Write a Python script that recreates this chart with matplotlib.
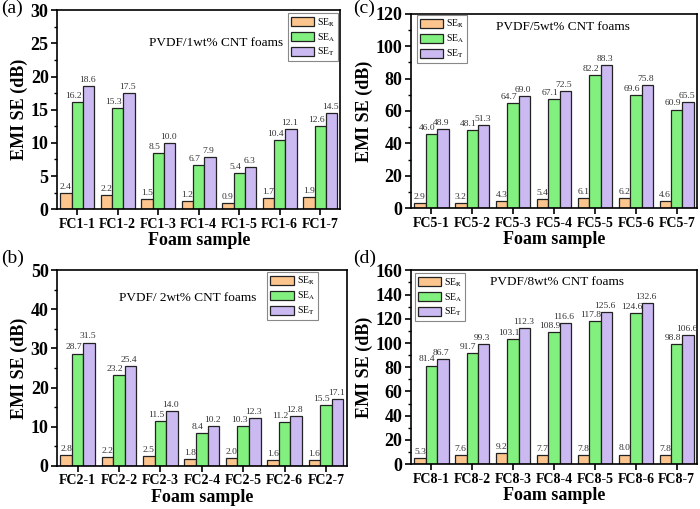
import numpy as np
import matplotlib
matplotlib.use('Agg')
import matplotlib.pyplot as plt
from matplotlib.ticker import MultipleLocator, AutoMinorLocator

plt.rcParams['font.family'] = ['Liberation Serif', 'DejaVu Serif']
plt.rcParams['mathtext.fontset'] = 'stix'

# data
samples_1 = ['FC1-1', 'FC1-2', 'FC1-3', 'FC1-4', 'FC1-5', 'FC1-6', 'FC1-7']
samples_2 = ['FC2-1', 'FC2-2', 'FC2-3', 'FC2-4', 'FC2-5', 'FC2-6', 'FC2-7']
samples_5 = ['FC5-1', 'FC5-2', 'FC5-3', 'FC5-4', 'FC5-5', 'FC5-6', 'FC5-7']
samples_8 = ['FC8-1', 'FC8-2', 'FC8-3', 'FC8-4', 'FC8-5', 'FC8-6', 'FC8-7']

se_r_1 = [2.4, 2.2, 1.5, 1.2, 0.9, 1.7, 1.9]
se_a_1 = [16.2, 15.3, 8.5, 6.7, 5.4, 10.4, 12.6]
se_t_1 = [18.6, 17.5, 10.0, 7.9, 6.3, 12.1, 14.5]

se_r_2 = [2.8, 2.2, 2.5, 1.8, 2.0, 1.6, 1.6]
se_a_2 = [28.7, 23.2, 11.5, 8.4, 10.3, 11.2, 15.5]
se_t_2 = [31.5, 25.4, 14.0, 10.2, 12.3, 12.8, 17.1]

se_r_5 = [2.9, 3.2, 4.3, 5.4, 6.1, 6.2, 4.6]
se_a_5 = [46.0, 48.1, 64.7, 67.1, 82.2, 69.6, 60.9]
se_t_5 = [48.9, 51.3, 69.0, 72.5, 88.3, 75.8, 65.5]

se_r_8 = [5.3, 7.6, 9.2, 7.7, 7.8, 8.0, 7.8]
se_a_8 = [81.4, 91.7, 103.1, 108.9, 117.8, 124.6, 98.8]
se_t_8 = [86.7, 99.3, 112.3, 116.6, 125.6, 132.6, 106.6]

colors = ['#FDC58E', '#82F07E', '#CBB9F2']
labels = ['SE$_\\mathrm{R}$', 'SE$_\\mathrm{A}$', 'SE$_\\mathrm{T}$']
width = 0.28
label_shift = [0, -3, -1]  # horizontal nudge of the value labels, in points


def draw_panel(ax, samples, series, ymax, ystep, title, title_xy,
               leg_loc, leg_anchor, tag, tag_xy):
    x = np.arange(1, len(samples) + 1)
    for i, vals in enumerate(series):
        ax.bar(x + (i - 1) * width, vals, width, color=colors[i],
               edgecolor='#222222', linewidth=0.9, label=labels[i])
        for xi, v in zip(x, vals):
            ax.annotate(f'{v:.1f}', (xi + (i - 1) * width, v),
                        xytext=(label_shift[i], 1.5), textcoords='offset points',
                        ha='center', va='bottom', fontsize=6.8, color='#333333')
    ax.set_xlim(0.5, 7.5)
    ax.set_ylim(0, ymax)
    ax.set_xticks(x)
    ax.set_xticklabels(samples, fontsize=10, fontweight='bold')
    ax.yaxis.set_major_locator(MultipleLocator(ystep))
    ax.yaxis.set_minor_locator(AutoMinorLocator(2))
    for lab in ax.get_yticklabels():
        lab.set_fontsize(13)
        lab.set_fontweight('bold')
    ax.tick_params(axis='both', direction='out', length=4, width=1.2, pad=2)
    ax.tick_params(axis='y', which='minor', direction='out', length=2.5, width=1)
    for sp in ax.spines.values():
        sp.set_linewidth(1.2)
    ax.set_ylabel('EMI SE (dB)', fontsize=13, fontweight='bold', labelpad=2)
    ax.set_xlabel('Foam sample', fontsize=13, fontweight='bold', labelpad=1)
    ax.text(title_xy[0], title_xy[1], title, transform=ax.transAxes,
            ha='center', va='center', fontsize=9.5)
    leg = ax.legend(loc=leg_loc, bbox_to_anchor=leg_anchor, fontsize=7,
                    fancybox=False, edgecolor='#888888', framealpha=1,
                    handlelength=2.4, handleheight=1.1, labelspacing=0.25,
                    handletextpad=0.3, borderpad=0.3, borderaxespad=0)
    leg.get_frame().set_linewidth(0.8)
    ax.figure.text(tag_xy[0], tag_xy[1], tag, fontsize=14, ha='left', va='top')


fig = plt.figure(figsize=(7.0, 5.09), dpi=100)

ax_a = fig.add_axes([0.0814, 0.589, 0.405, 0.391])
ax_c = fig.add_axes([0.587, 0.591, 0.409, 0.382])
ax_b = fig.add_axes([0.0814, 0.0845, 0.414, 0.385])
ax_d = fig.add_axes([0.587, 0.088, 0.409, 0.381])

draw_panel(ax_a, samples_1, [se_r_1, se_a_1, se_t_1], 30, 5,
           'PVDF/1wt% CNT foams', (0.56, 0.834),
           'upper right', (0.993, 0.985), '(a)', (0.002, 1.0))
draw_panel(ax_c, samples_5, [se_r_5, se_a_5, se_t_5], 120, 20,
           'PVDF/5wt% CNT foams', (0.53, 0.93),
           'upper left', (0.02, 0.995), '(c)', (0.505, 1.0))
draw_panel(ax_b, samples_2, [se_r_2, se_a_2, se_t_2], 50, 10,
           'PVDF/ 2wt% CNT foams', (0.45, 0.857),
           'upper right', (0.90, 0.99), '(b)', (0.002, 0.51))
draw_panel(ax_d, samples_8, [se_r_8, se_a_8, se_t_8], 160, 20,
           'PVDF/8wt% CNT foams', (0.51, 0.94),
           'upper left', (0.014, 0.985), '(d)', (0.505, 0.51))

fig.savefig('out.png', dpi=100)
